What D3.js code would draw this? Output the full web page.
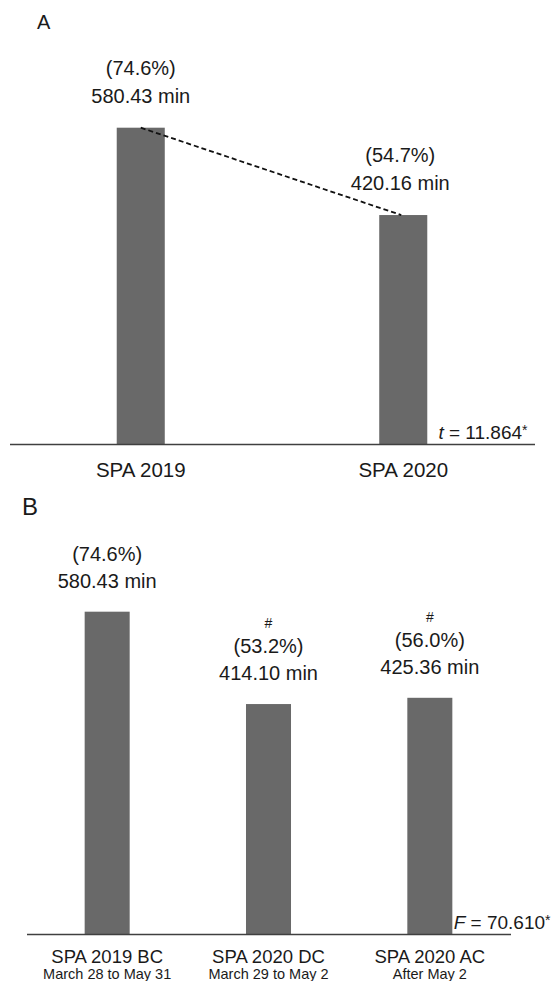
<!DOCTYPE html>
<html>
<head>
<meta charset="utf-8">
<script src="https://cdn.jsdelivr.net/npm/d3@7"></script>
<style>
  html, body { margin: 0; padding: 0; background: #fff; }
  svg { display: block; font-family: "Liberation Sans", Arial, sans-serif; }
</style>
</head>
<body>
<svg id="chart" width="552" height="981"></svg>
<script>
// ---- Data ----
const categoriesA = ["SPA 2019", "SPA 2020"];
const valuesA = [580.43, 420.16];
const percentA = ["(74.6%)", "(54.7%)"];
const statA = { symbol: "t", value: " = 11.864" };

const categoriesB = ["SPA 2019 BC", "SPA 2020 DC", "SPA 2020 AC"];
const subLabelsB = ["March 28 to May 31", "March 29 to May 2", "After May 2"];
const valuesB = [580.43, 414.10, 425.36];
const percentB = ["(74.6%)", "(53.2%)", "(56.0%)"];
const marksB = ["", "#", "#"];
const statB = { symbol: "F", value: " = 70.610" };

const yDomain = [0, 800];

// ---- Styles ----
const barColor = "#696969";
const textColor = "#1a1a1a";
const axisColor = "#404040";

const svg = d3.select("#chart");

function fmtMin(v) { return d3.format(".2f")(v) + " min"; }

// ================= Panel A =================
const xA = d3.scaleBand().domain(categoriesA).range([9.5, 534.5])
  .paddingInner(0.817).paddingOuter(0.4085);
const yA = d3.scaleLinear().domain(yDomain).range([444, 444 - 800 * 0.54494]);

const gA = svg.append("g");
gA.append("text").attr("x", 37).attr("y", 28.5).attr("font-size", 20)
  .attr("fill", textColor).text("A");

gA.selectAll("rect.bar").data(valuesA).enter().append("rect")
  .attr("class", "bar")
  .attr("x", (d, i) => xA(categoriesA[i]))
  .attr("y", d => yA(d))
  .attr("width", xA.bandwidth())
  .attr("height", d => yA(0) - yA(d))
  .attr("fill", barColor);

// dashed trend line between bar tops
gA.append("line")
  .attr("x1", xA(categoriesA[0]) + xA.bandwidth() / 2)
  .attr("y1", yA(valuesA[0]))
  .attr("x2", xA(categoriesA[1]) + xA.bandwidth() / 2 - 2)
  .attr("y2", yA(valuesA[1]))
  .attr("stroke", "#111").attr("stroke-width", 1.8)
  .attr("stroke-dasharray", "5,3");

gA.selectAll("text.val").data(valuesA).enter().append("text")
  .attr("class", "val")
  .attr("x", (d, i) => xA(categoriesA[i]) + xA.bandwidth() / 2 - (i ? 3 : 0))
  .attr("y", d => yA(d) - 25)
  .attr("text-anchor", "middle").attr("font-size", 20).attr("fill", textColor)
  .text(d => fmtMin(d));

gA.selectAll("text.pct").data(valuesA).enter().append("text")
  .attr("class", "pct")
  .attr("x", (d, i) => xA(categoriesA[i]) + xA.bandwidth() / 2 - (i ? 3 : 0))
  .attr("y", d => yA(d) - 53)
  .attr("text-anchor", "middle").attr("font-size", 20).attr("fill", textColor)
  .text((d, i) => percentA[i]);

const axA = gA.append("g").attr("transform", `translate(0,${yA(0)})`)
  .call(d3.axisBottom(xA).tickSize(0).tickSizeOuter(0).tickPadding(18.5));
axA.select(".domain").attr("stroke", axisColor).attr("stroke-width", 1.6);
axA.selectAll(".tick text").attr("font-size", 20.5).attr("fill", textColor)
  .attr("font-family", "Liberation Sans, Arial, sans-serif");

const tA = gA.append("text")
  .attr("x", xA.range()[1] - 7).attr("y", yA(0) - 4.6)
  .attr("text-anchor", "end").attr("font-size", 19).attr("fill", textColor);
tA.append("tspan").attr("font-style", "italic").text(statA.symbol);
tA.append("tspan").text(statA.value);
tA.append("tspan").attr("font-size", 14).attr("dy", -4).text("*");

// ================= Panel B =================
const xB = d3.scaleBand().domain(categoriesB).range([26.5, 510.5])
  .paddingInner(0.721).paddingOuter(0.3605);
const yB = d3.scaleLinear().domain(yDomain).range([934, 934 - 800 * 0.5553]);

const gB = svg.append("g");
gB.append("text").attr("x", 22).attr("y", 515).attr("font-size", 24)
  .attr("fill", textColor).text("B");

gB.selectAll("rect.bar").data(valuesB).enter().append("rect")
  .attr("class", "bar")
  .attr("x", (d, i) => xB(categoriesB[i]))
  .attr("y", d => yB(d))
  .attr("width", xB.bandwidth())
  .attr("height", d => yB(0) - yB(d))
  .attr("fill", barColor);

gB.selectAll("text.val").data(valuesB).enter().append("text")
  .attr("class", "val")
  .attr("x", (d, i) => xB(categoriesB[i]) + xB.bandwidth() / 2)
  .attr("y", d => yB(d) - 24)
  .attr("text-anchor", "middle").attr("font-size", 20).attr("fill", textColor)
  .text(d => fmtMin(d));

gB.selectAll("text.pct").data(valuesB).enter().append("text")
  .attr("class", "pct")
  .attr("x", (d, i) => xB(categoriesB[i]) + xB.bandwidth() / 2)
  .attr("y", d => yB(d) - 51)
  .attr("text-anchor", "middle").attr("font-size", 20).attr("fill", textColor)
  .text((d, i) => percentB[i]);

gB.selectAll("text.mark").data(valuesB).enter().append("text")
  .attr("class", "mark")
  .attr("x", (d, i) => xB(categoriesB[i]) + xB.bandwidth() / 2)
  .attr("y", d => yB(d) - 76)
  .attr("text-anchor", "middle").attr("font-size", 14).attr("fill", textColor)
  .text((d, i) => marksB[i]);

const axB = gB.append("g").attr("transform", `translate(0,${yB(0)})`)
  .call(d3.axisBottom(xB).tickSize(0).tickSizeOuter(0).tickPadding(15.5));
axB.select(".domain").attr("stroke", axisColor).attr("stroke-width", 1.6);
axB.selectAll(".tick text").attr("font-size", 18.5).attr("fill", textColor)
  .attr("font-family", "Liberation Sans, Arial, sans-serif");
axB.selectAll(".tick").append("text")
  .attr("y", 45).attr("text-anchor", "middle")
  .attr("font-size", 14.5).attr("fill", textColor)
  .attr("font-family", "Liberation Sans, Arial, sans-serif")
  .text((d, i) => subLabelsB[i]);

const tB = gB.append("text")
  .attr("x", xB.range()[1] + 40).attr("y", yB(0) - 5.4)
  .attr("text-anchor", "end").attr("font-size", 19).attr("fill", textColor);
tB.append("tspan").attr("font-style", "italic").text(statB.symbol);
tB.append("tspan").text(statB.value);
tB.append("tspan").attr("font-size", 14).attr("dy", -4).text("*");
</script>
</body>
</html>
